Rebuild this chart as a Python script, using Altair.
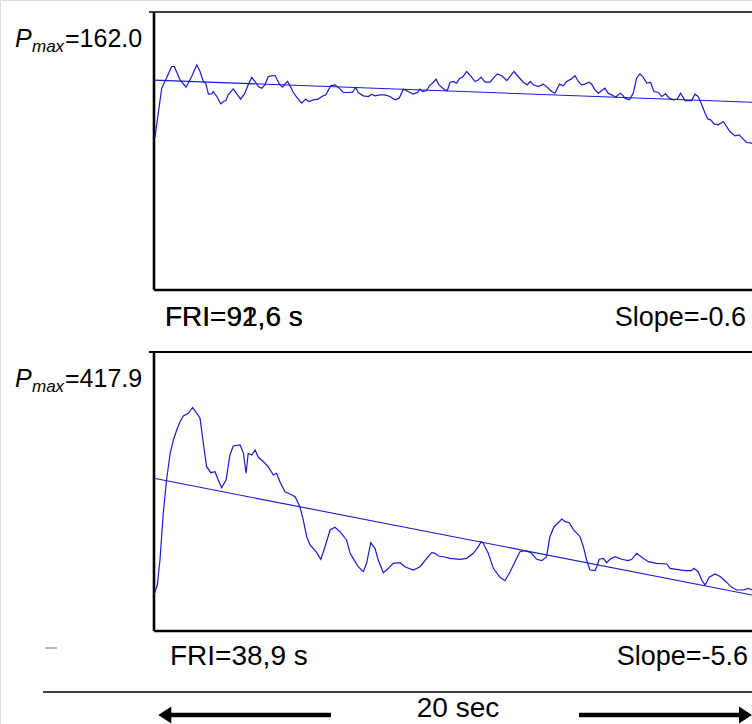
import altair as alt
import pandas as pd

# ---------------- data ----------------
# top recording (time in s, force in arbitrary units)
top_t = [0.03,0.26,0.42,0.59,0.68,0.87,1.07,1.26,1.43,1.54,1.65,1.73,1.82,1.93,1.98,2.10,2.23,2.32,2.41,2.48,
         2.65,2.77,2.90,3.04,3.15,3.27,3.38,3.49,3.60,3.71,3.82,3.94,4.05,4.12,4.21,4.30,4.38,4.47,4.55,4.66,
         4.77,4.94,5.07,5.18,5.33,5.49,5.61,5.75,5.91,6.05,6.16,6.33,6.50,6.64,6.75,6.83,7.00,7.17,7.28,7.39,
         7.56,7.72,7.89,8.06,8.20,8.34,8.50,8.67,8.81,8.89,8.99,9.12,9.21,9.34,9.43,9.53,
         9.73,9.81,9.90,10.01,10.12,10.23,10.32,10.46,10.59,10.74,10.85,10.94,11.07,11.24,11.35,11.48,11.63,11.80,
         11.91,12.04,12.18,12.35,12.48,12.58,12.69,12.85,13.02,13.15,13.30,13.41,13.56,13.69,13.80,13.95,14.08,
         14.19,14.30,14.41,14.55,14.64,14.75,14.86,14.97,15.08,15.19,15.31,15.44,15.59,15.67,15.75,15.90,16.03,
         16.14,16.25,16.36,16.48,16.61,16.72,16.87,16.98,17.11,17.23,17.37,17.50,17.61,17.76,17.98,18.09,18.20,
         18.32,18.43,18.52,18.62,18.73,18.87,19.04,19.15,19.26,19.43,19.57,19.71,19.82,20.0]
top_f = [109.4,145.4,152.6,160.8,160.8,151.2,145.9,153.6,162.0,157.2,150.0,148.8,140.9,141.1,142.8,139.2,133.9,135.6,136.3,140.4,
         144.7,141.1,137.3,141.6,147.6,152.9,150.0,146.4,145.2,147.6,153.6,154.1,154.3,151.2,147.6,145.9,148.3,150.0,146.9,142.1,
         138.7,134.4,137.3,135.6,136.8,137.3,139.2,140.4,146.9,147.6,145.9,142.1,142.1,142.3,145.7,142.1,139.7,139.2,140.9,139.7,
         140.4,140.4,139.2,136.8,138.0,144.5,142.8,140.9,142.1,144.5,142.8,143.5,146.9,149.3,151.7,147.6,
         144.0,143.5,149.3,150.0,148.8,152.4,153.1,157.2,154.1,150.0,151.2,153.1,149.5,149.5,152.4,155.5,154.1,150.7,
         153.6,157.2,153.6,149.5,147.6,150.0,147.6,146.4,148.1,145.9,142.8,141.6,148.1,146.9,150.0,151.7,154.1,
         150.0,147.6,148.1,149.5,148.1,144.0,141.6,143.3,145.2,141.6,140.4,138.7,141.6,140.4,138.0,136.8,141.6,
         152.4,155.5,153.1,148.8,149.3,142.8,142.1,139.2,141.1,138.0,136.8,137.3,141.6,136.3,136.3,140.9,139.2,
         133.2,127.2,123.1,122.4,119.5,118.8,121.2,117.6,114.0,110.9,111.6,108.5,106.1,105.6]
top_reg_t = [0, 20]
top_reg_f = [151.0, 135.1]

# bottom recording
bot_t = [0.00,0.11,0.20,0.31,0.42,0.54,0.65,0.76,0.87,0.98,1.15,1.29,1.43,1.54,1.65,1.76,1.90,2.04,2.15,2.26,
         2.41,2.54,2.65,2.88,2.99,3.08,3.15,3.27,3.38,3.49,3.66,3.82,3.99,4.10,4.21,4.38,4.55,4.72,4.88,4.99,
         5.11,5.22,5.42,5.58,5.72,5.89,6.05,6.22,6.44,6.56,6.66,6.83,7.00,7.11,7.25,7.39,7.50,7.67,7.84,8.00,
         8.23,8.39,8.67,8.90,9.12,9.29,9.40,9.51,9.68,9.90,10.23,10.46,10.68,10.85,10.94,11.01,11.18,11.35,11.57,11.74,
         11.91,12.13,12.24,12.37,12.52,12.63,12.80,12.97,13.13,13.24,13.38,13.52,13.64,13.75,13.89,14.02,14.25,14.36,14.47,14.58,
         14.75,14.81,14.89,15.03,15.14,15.25,15.42,15.64,15.86,15.98,16.14,16.31,16.53,16.81,17.15,17.26,17.48,17.76,17.98,18.06,
         18.20,18.32,18.43,18.57,18.76,18.95,19.13,19.32,19.49,19.71,19.88,20.0]
bot_f = [67.3,86.0,132.8,220.1,282.4,332.3,357.2,375.9,391.4,402.1,407.1,417.9,407.1,397.7,351.0,307.2,296.0,297.9,282.4,268.0,
         282.4,329.1,346.0,347.8,332.3,294.9,332.3,329.1,338.5,324.8,316.6,307.2,291.7,294.9,279.2,260.5,256.2,251.1,232.4,207.6,
         176.3,160.8,148.3,134.1,157.6,188.9,193.9,185.7,170.2,145.3,135.9,120.2,110.9,126.6,165.1,154.6,132.8,109.0,117.2,126.6,
         127.7,120.2,114.1,120.2,135.9,146.4,145.3,140.3,138.9,135.9,134.1,135.9,145.3,157.6,167.0,164.0,145.3,117.2,100.4,94.1,
         110.9,135.9,148.3,150.2,148.3,145.3,134.1,131.5,138.9,176.3,195.0,202.5,209.4,204.4,202.5,190.2,176.3,157.6,132.8,114.1,
         112.8,120.2,134.1,135.9,127.7,134.1,138.9,134.1,131.5,134.1,145.3,137.8,129.6,126.6,125.3,117.2,115.4,112.8,112.8,117.2,
         110.9,95.4,86.0,100.4,106.6,101.5,92.2,81.7,76.7,76.7,79.8,76.7]
bot_reg_t = [0, 20]
bot_reg_f = [285.5, 67.3]

# texts
pmax_top = "=162.0"
pmax_bot = "=417.9"
fri_top = ["FRI=92,6 s", "FRI=91,6 s"]   # two overlapping labels as in the original
fri_bot = "FRI=38,9 s"
slope_top = "Slope=-0.6"
slope_bot = "Slope=-5.6"
span_label = "20 sec"

# ---------------- chart ----------------
FONT = "Liberation Sans"
BLUE = "#1a1acd"
W, H = 752, 724

xscale = alt.Scale(domain=[0, 20], range=[154, 752], nice=False, zero=False)
yscale_top = alt.Scale(domain=[0, 200], range=[290, 12], nice=False, zero=False)
yscale_bot = alt.Scale(domain=[0, 521.7], range=[631, 352], nice=False, zero=False)

one = alt.Data(values=[{}])


def trace(t, f, ys):
    df = pd.DataFrame({"t": t, "f": f})
    return alt.Chart(df).mark_line(color=BLUE, strokeWidth=1.2, interpolate="linear").encode(
        x=alt.X("t:Q", scale=xscale, axis=None),
        y=alt.Y("f:Q", scale=ys, axis=None),
    )


def regline(t, f, ys):
    df = pd.DataFrame({"t": t, "f": f})
    return alt.Chart(df).mark_line(color=BLUE, strokeWidth=1.1).encode(
        x=alt.X("t:Q", scale=xscale, axis=None),
        y=alt.Y("f:Q", scale=ys, axis=None),
    )


def frame(ys, ymax, top_w, side_w):
    top_line = alt.Chart(one).mark_rule(color="black", strokeWidth=top_w).encode(
        x=alt.XDatum(-0.17, type="quantitative", scale=xscale, axis=None),
        x2=alt.X2Datum(20),
        y=alt.YDatum(ymax, type="quantitative", scale=ys, axis=None),
    )
    left_line = alt.Chart(one).mark_rule(color="black", strokeWidth=side_w).encode(
        x=alt.XDatum(0, type="quantitative", scale=xscale, axis=None),
        y=alt.YDatum(0, type="quantitative", scale=ys, axis=None),
        y2=alt.Y2Datum(ymax),
    )
    bottom_line = alt.Chart(one).mark_rule(color="black", strokeWidth=side_w).encode(
        x=alt.XDatum(0, type="quantitative", scale=xscale, axis=None),
        x2=alt.X2Datum(20),
        y=alt.YDatum(0, type="quantitative", scale=ys, axis=None),
    )
    return [top_line, left_line, bottom_line]


def label(text, x, y, size, align="left", italic=False):
    return alt.Chart(one).mark_text(
        text=text, align=align, baseline="alphabetic", fontSize=size, font=FONT,
        fontStyle="italic" if italic else "normal", color="black",
    ).encode(x=alt.value(x), y=alt.value(y))


def hrule(x1, x2, y, width, color="black"):
    return alt.Chart(one).mark_rule(color=color, strokeWidth=width).encode(
        x=alt.value(x1), x2=alt.value(x2), y=alt.value(y)
    )


def head(path, x, y):
    return alt.Chart(one).mark_point(
        shape=path, size=289, filled=True, color="black", opacity=1, strokeWidth=0
    ).encode(x=alt.value(x), y=alt.value(y))


top_panel = alt.layer(
    *frame(yscale_top, 200, 1.6, 2.6),
    trace(top_t, top_f, yscale_top),
    regline(top_reg_t, top_reg_f, yscale_top),
)
bot_panel = alt.layer(
    *frame(yscale_bot, 521.7, 2.2, 2.6),
    trace(bot_t, bot_f, yscale_bot),
    regline(bot_reg_t, bot_reg_f, yscale_bot),
)

annotations = [
    # top panel labels
    label("P", 15, 47, 25, italic=True),
    label("max", 32, 52, 17, italic=True),
    label(pmax_top, 65, 47, 25),
    label(fri_top[0], 165, 326, 28),
    label(fri_top[1], 165, 326, 28),
    label(slope_top, 746, 326, 27, align="right"),
    # bottom panel labels
    label("P", 15, 387, 25, italic=True),
    label("max", 32, 392, 17, italic=True),
    label(pmax_bot, 65, 387, 25),
    label(fri_bot, 170, 665, 28),
    label(slope_bot, 748, 665, 27, align="right"),
    # small dash, time bar and arrows
    hrule(45, 57, 648, 1, color="#777777"),
    hrule(43, 752, 692, 1.6),
    hrule(165, 331, 715, 4.7),
    hrule(579, 745, 715, 4.7),
    head("M -1 0 L 0.53 -1 L 0.53 1 Z", 166.8, 715),
    head("M 1 0 L -0.53 -1 L -0.53 1 Z", 743.5, 715),
    label(span_label, 458, 717, 28, align="center"),
]

chart = alt.layer(top_panel, bot_panel, *annotations).resolve_scale(
    y="independent"
).properties(
    width=W, height=H, padding=0,
    autosize=alt.AutoSizeParams(type="none"),
).configure_view(stroke=None).configure(background="white")

chart.save("out.html", embed_options={"renderer": "svg", "actions": False})
